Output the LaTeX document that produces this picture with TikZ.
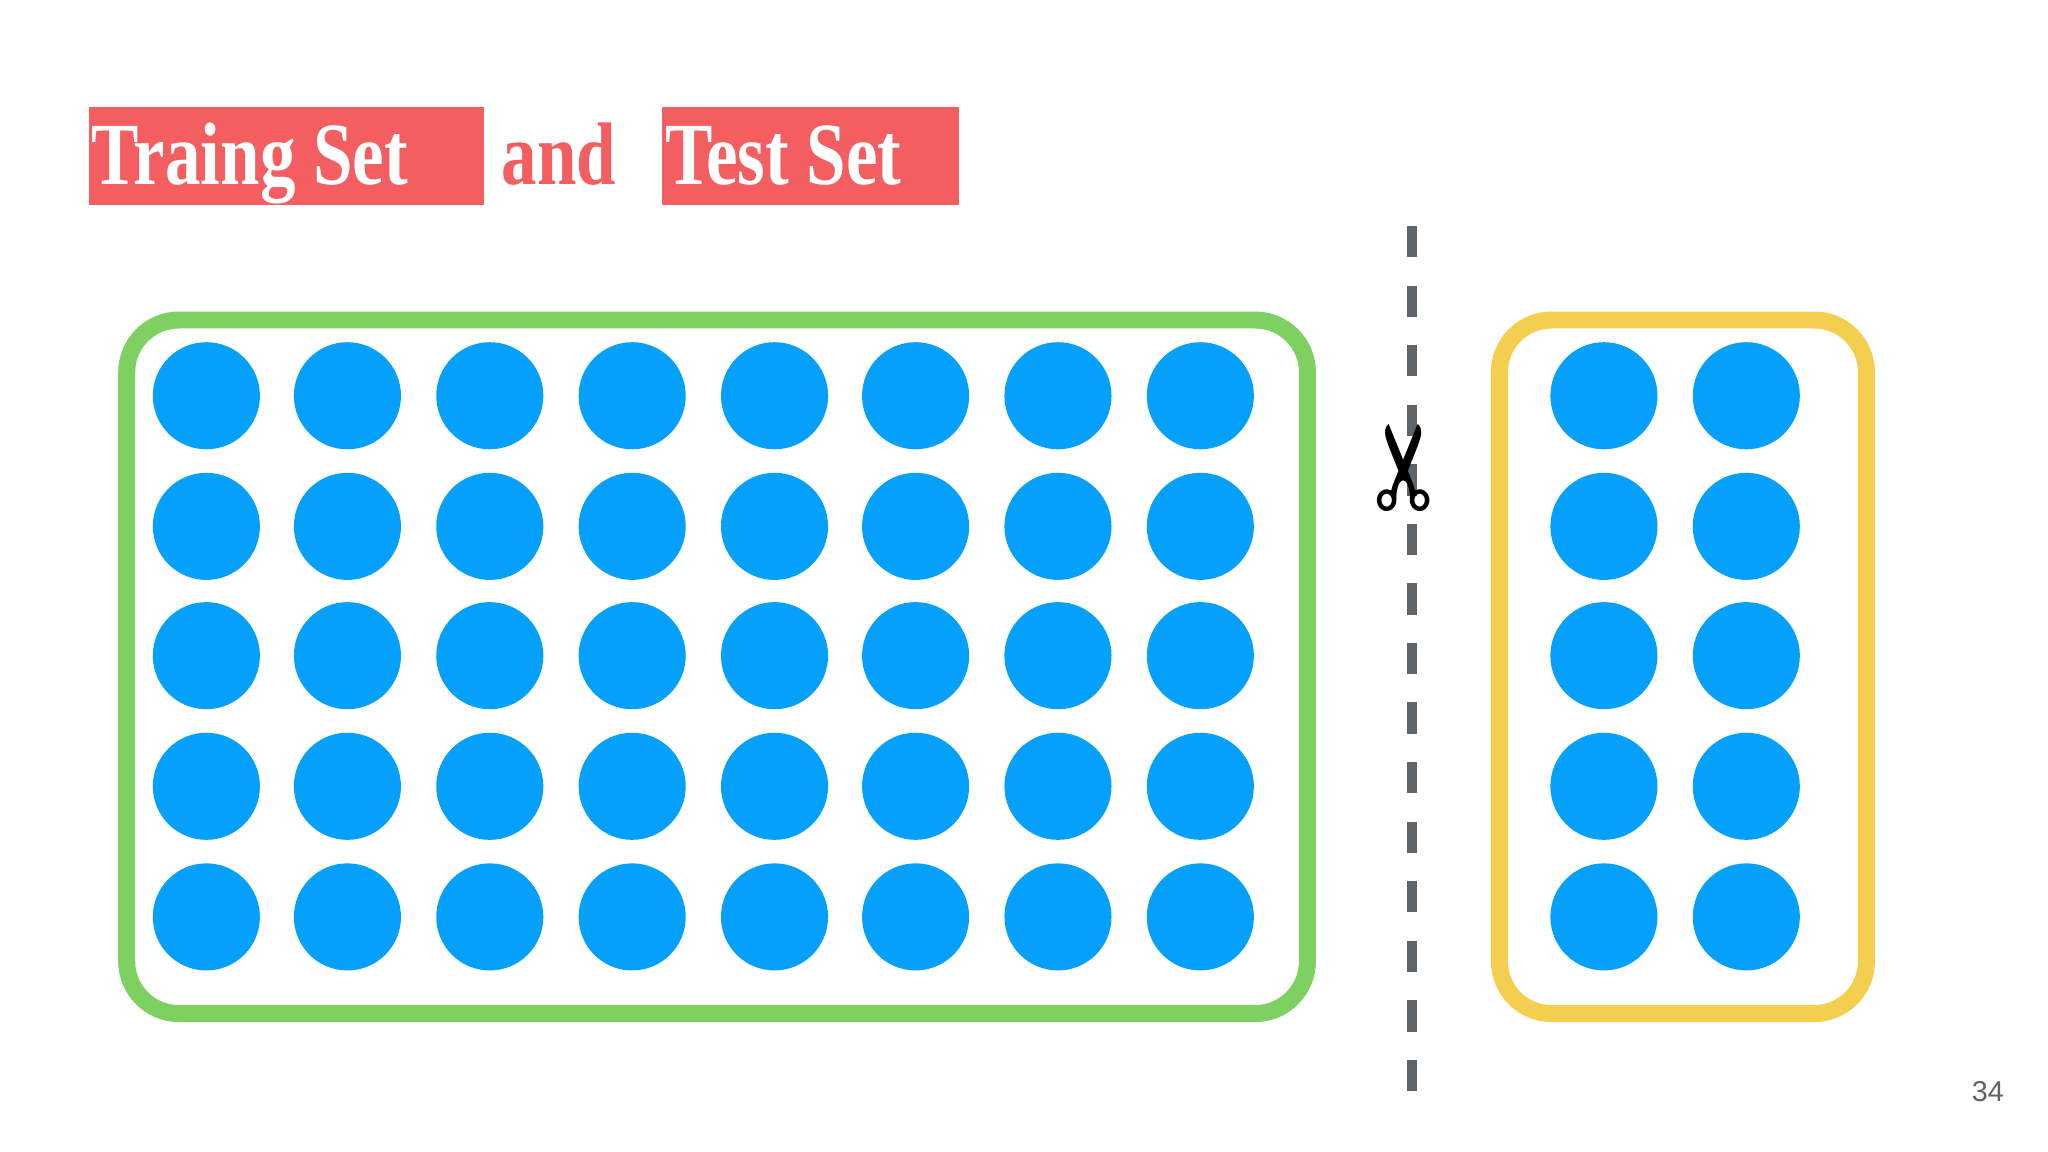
\documentclass[tikz,border=0pt]{standalone}
\usepackage{fontspec}
\setmainfont{Liberation Serif}
\newfontfamily\djv{DejaVu Sans}
\newfontfamily\lsans{Liberation Sans}
\definecolor{dot}{RGB}{5,160,250}
\definecolor{grn}{RGB}{126,209,96}
\definecolor{ylw}{RGB}{244,206,79}
\definecolor{tred}{RGB}{243,94,97}
\definecolor{dgray}{RGB}{95,100,104}
\begin{document}
\begin{tikzpicture}[x=1pt,y=-1pt,
  pt/.style={circle,fill=dot,minimum size=82pt,inner sep=0pt},
  tbox/.style={fill=tred,inner sep=0pt,minimum height=75pt,text=white,font=\bfseries\fontsize{68}{68}\selectfont,anchor=north west}]
\useasboundingbox (0,0) rectangle (1568,882);
\fill[white] (0,0) rectangle (1568,882);
\node[tbox,minimum width=302pt] (t1) at (68,82) {};
\node[anchor=base west,text=white,font=\bfseries\fontsize{68}{68}\selectfont,inner sep=0pt] (t1t) at (70,141) {\scalebox{0.8}[1]{Traing Set}};
\node[anchor=base west,text=tred,font=\bfseries\fontsize{68}{68}\selectfont,inner sep=0pt] (and) at (384,141) {\scalebox{0.8}[1]{and}};
\node[tbox,minimum width=227pt] (t2) at (507,82) {};
\node[anchor=base west,text=white,font=\bfseries\fontsize{68}{68}\selectfont,inner sep=0pt] (t2t) at (509,141) {\scalebox{0.8}[1]{Test Set}};
\draw[grn,line width=13pt,rounded corners=40pt] (97,245) rectangle (1001,776);
\draw[ylw,line width=13pt,rounded corners=40pt] (1148,245) rectangle (1429,776);
\foreach \r [count=\i] in {303,403,502,602,702}{
  \foreach \c [count=\j] in {158,266,375,484,593,701,810,919}{
    \node[pt] (a\i\j) at (\c,\r) {};}
  \foreach \c [count=\j] in {1228,1337}{
    \node[pt] (b\i\j) at (\c,\r) {};}
}
\coordinate (ctop) at (1081,173);
\coordinate (cbot) at (1081,842);
\draw[dgray,line width=7pt,dash pattern=on 24pt off 21.6pt] (ctop) -- (cbot);
\node[font=\djv\fontsize{90}{90}\selectfont,rotate=90,inner sep=0pt] (sc) at (1081,358) {✂};
\node[font=\lsans\fontsize{22}{22}\selectfont,text=dgray] (pg) at (1522,836) {34};
\end{tikzpicture}
\end{document}
